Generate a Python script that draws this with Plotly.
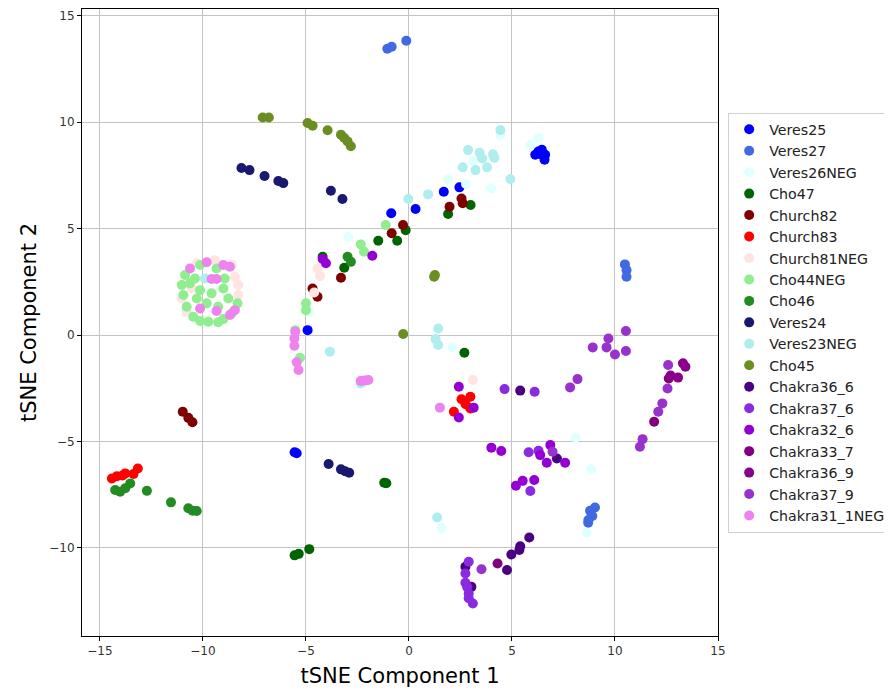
import plotly.graph_objects as go

names = ["Veres25", "Veres27", "Veres26NEG", "Cho47", "Church82", "Church83",
         "Church81NEG", "Cho44NEG", "Cho46", "Veres24", "Veres23NEG", "Cho45",
         "Chakra36_6", "Chakra37_6", "Chakra32_6", "Chakra33_7", "Chakra36_9",
         "Chakra37_9", "Chakra31_1NEG"]

colors = ["blue", "royalblue", "lightcyan", "darkgreen", "maroon", "red",
          "mistyrose", "lightgreen", "forestgreen", "midnightblue", "paleturquoise",
          "olivedrab", "indigo", "blueviolet", "darkviolet", "purple", "darkmagenta",
          "darkorchid", "violet"]

veres25_x = [6.29, 6.45, 6.61, 6.13, 6.58, 6.40, 1.69, 2.45, 0.32, -0.86, -4.92, -5.55, -5.45]
veres25_y = [8.63, 8.71, 8.47, 8.47, 8.24, 8.50, 6.73, 6.94, 5.92, 5.72, 0.23, -5.51, -5.55]

veres27_x = [-1.05, -0.84, -0.13, 10.48, 10.56, 10.56, 9.03, 8.79, 8.90, 8.71, 8.70]
veres27_y = [13.45, 13.55, 13.83, 3.32, 3.05, 2.74, -8.10, -8.26, -8.50, -8.69, -8.82]

veres26neg_x = [4.44, 5.89, 6.29, 1.90, 2.77, 4.00, 3.11, 8.09, 8.84, 8.63, 1.58, -2.94, 2.10, -4.84]
veres26neg_y = [9.40, 8.93, 9.26, 7.33, 7.10, 6.89, 8.18, -4.81, -6.31, -9.29, -9.08, 4.62, -0.58, 1.10]

cho47_x = [1.90, 2.99, -1.49, -0.57, -0.16, -3.14, -4.19, 2.69, -1.20, -1.10, -5.55, -5.35, -4.84]
cho47_y = [5.69, 6.11, 4.43, 4.43, 4.93, 3.16, 3.68, -0.83, -6.94, -6.96, -10.35, -10.28, -10.06]

church82_x = [1.97, 2.55, 2.61, -0.29, -0.84, -3.30, -4.68, -4.44, -10.98, -10.71, -10.51]
church82_y = [6.03, 6.42, 6.19, 5.17, 4.78, 2.69, 2.19, 1.80, -3.60, -3.89, -4.10]

church83_x = [-14.42, -14.17, -13.90, -13.77, -13.37, -13.16, 2.55, 2.98, 2.18, 2.98, 2.75]
church83_y = [-6.74, -6.63, -6.60, -6.50, -6.53, -6.27, -3.02, -2.90, -3.60, -3.45, -3.25]

church81neg_x = [3.10, -4.44, -4.32, -4.60, -9.42, -8.45, -8.29, -8.29, -11.03, -10.30, -10.79, -10.55, -8.60]
church81neg_y = [-2.11, 3.13, 2.77, 2.00, 3.52, 2.74, 2.35, 1.88, 1.72, 3.37, 1.10, 2.19, 3.30]

cho44neg_x = [-10.87, -11.03, -10.95, -10.79, -10.47, -10.14, -9.74, -9.26, -9.01, -8.61, -8.32,
              -8.77, -9.01, -9.34, -10.14, -10.39, -10.63, -10.14, -10.30, -9.82, -9.58, -9.26,
              -8.94, -1.13, -2.34, -2.18, -5.00, -5.00, -5.52, -5.29]
cho44neg_y = [2.82, 2.35, 1.88, 1.33, 0.86, 0.66, 0.63, 0.60, 0.75, 1.02, 1.49,
              1.72, 2.19, 3.13, 3.29, 2.66, 2.43, 2.11, 1.72, 1.49, 1.96, 1.33,
              2.66, 5.17, 4.26, 3.92, 1.49, 1.17, 0.23, -1.07]

cho46_x = [-2.98, -2.82, -14.26, -14.02, -13.77, -13.53, -12.72, -11.55, -10.71, -10.50, -10.30]
cho46_y = [3.68, 3.44, -7.28, -7.36, -7.20, -6.97, -7.32, -7.86, -8.14, -8.25, -8.27]

veres24_x = [-8.13, -7.74, -7.01, -6.34, -6.10, -3.79, -3.23, -3.90, -3.30, -3.10, -2.90]
veres24_y = [7.85, 7.75, 7.47, 7.24, 7.14, 6.78, 6.39, -6.06, -6.31, -6.40, -6.47]

veres23neg_x = [4.44, 2.87, 3.43, 4.08, 3.55, 4.15, 2.61, 3.23, 3.79, 4.92, 0.93, -0.03,
                1.37, -3.84, 1.42, 1.29, 1.42, -9.90, -2.34]
veres23neg_y = [9.63, 8.69, 8.57, 8.49, 8.30, 8.33, 7.88, 7.75, 7.88, 7.33, 6.61, 6.39,
                -8.57, -0.78, 0.31, -0.19, -0.47, 2.66, -2.27]

cho45_x = [-7.10, -6.80, -4.92, -4.68, -3.95, -3.30, -3.14, -2.98, -2.82, 1.26, 1.22, -0.28]
cho45_y = [10.22, 10.22, 9.96, 9.84, 9.62, 9.41, 9.26, 9.10, 8.87, 2.82, 2.74, 0.05]

chakra36_6_x = [5.40, 7.18, 5.84, 5.40, 5.36, 4.97, 4.76, 2.74, 3.03]
chakra36_6_y = [-2.61, -5.80, -9.51, -9.92, -10.10, -10.31, -11.04, -10.89, -11.83]

chakra37_6_x = [4.64, 6.10, 5.81, 6.29, 5.89, 2.90, 2.74, 2.74, 2.82, 2.90, 2.90, 3.10]
chakra37_6_y = [-2.54, -2.66, -5.51, -5.44, -7.33, -10.65, -11.20, -11.64, -11.83, -12.14, -12.37, -12.61]

chakra32_6_x = [2.42, 3.14, 2.42, -4.19, -4.03, -1.78, 4.48, 4.00, 6.37, 6.86, 6.69, 7.58, 5.19, 5.52, 6.08]
chakra32_6_y = [-2.43, -3.41, -3.87, 3.57, 3.37, 3.73, -5.45, -5.29, -5.64, -5.17, -6.00, -6.00, -7.08, -6.85, -6.81]

chakra33_7_x = [4.30, 11.90, 12.61]
chakra33_7_y = [-10.73, -4.07, -2.04]

chakra36_9_x = [13.30, 13.42, 13.06, 12.70]
chakra36_9_y = [-1.33, -1.49, -2.00, -1.90]

chakra37_9_x = [8.92, 9.59, 9.68, 10.00, 10.53, 10.53, 7.82, 8.18, 12.58, 12.55, 12.30, 12.10,
                11.34, 11.21, 6.97, 3.52]
chakra37_9_y = [-0.58, -0.58, -0.16, -0.91, -0.75, 0.19, -2.46, -2.07, -1.41, -2.51, -3.21, -3.60,
                -4.89, -5.25, -5.48, -11.00]

chakra31_1neg_x = [-10.63, -9.82, -9.01, -8.69, -9.58, -9.34, -10.14, -9.34, -8.69, -8.45,
                   -5.52, -5.56, -5.56, -5.45, -5.36, -2.34, -1.97, -2.15, 1.50]
chakra31_1neg_y = [3.13, 3.42, 3.29, 3.21, 2.63, 2.63, 1.25, 1.13, 0.94, 1.17,
                   0.16, -0.16, -0.50, -1.28, -1.64, -2.16, -2.11, -2.14, -3.41]

series = [
    (veres25_x, veres25_y), (veres27_x, veres27_y), (veres26neg_x, veres26neg_y),
    (cho47_x, cho47_y), (church82_x, church82_y), (church83_x, church83_y),
    (church81neg_x, church81neg_y), (cho44neg_x, cho44neg_y), (cho46_x, cho46_y),
    (veres24_x, veres24_y), (veres23neg_x, veres23neg_y), (cho45_x, cho45_y),
    (chakra36_6_x, chakra36_6_y), (chakra37_6_x, chakra37_6_y), (chakra32_6_x, chakra32_6_y),
    (chakra33_7_x, chakra33_7_y), (chakra36_9_x, chakra36_9_y), (chakra37_9_x, chakra37_9_y),
    (chakra31_1neg_x, chakra31_1neg_y),
]

x_ticks = [-15, -10, -5, 0, 5, 10, 15]
y_ticks = [-10, -5, 0, 5, 10, 15]

fig = go.Figure()
for name, color, (xs, ys) in zip(names, colors, series):
    fig.add_trace(go.Scatter(
        x=xs, y=ys, mode="markers", name=name,
        marker=dict(color=color, size=10, line=dict(width=0)),
    ))

axis_common = dict(
    showgrid=True, gridcolor="#c4c4c4", gridwidth=1,
    showline=True, linecolor="black", linewidth=1, mirror=True,
    ticks="outside", ticklen=4, tickcolor="black",
    zeroline=False, tickfont=dict(family="DejaVu Sans", size=12, color="#333333"),
)

# the page body has an 8px default margin, so the figure is sized to fit the window
fig.update_layout(
    width=884, height=681,
    margin=dict(l=74, r=172, t=1, b=53),
    plot_bgcolor="white", paper_bgcolor="white",
    font=dict(family="DejaVu Sans", color="black"),
    xaxis=dict(range=[-15.87, 15.0], tickvals=x_ticks,
               title=dict(text="tSNE Component 1", font=dict(size=21), standoff=10),
               **axis_common),
    yaxis=dict(range=[-14.14, 15.32], tickvals=y_ticks,
               title=dict(text="tSNE Component 2", font=dict(size=21), standoff=6),
               **axis_common),
    legend=dict(x=1.016, xanchor="left", y=0.5, yanchor="middle",
                bordercolor="#d0d0d0", borderwidth=1, bgcolor="white",
                font=dict(family="DejaVu Sans", size=14.2, color="#222222")),
    showlegend=True,
)

fig.write_html("out.html")
